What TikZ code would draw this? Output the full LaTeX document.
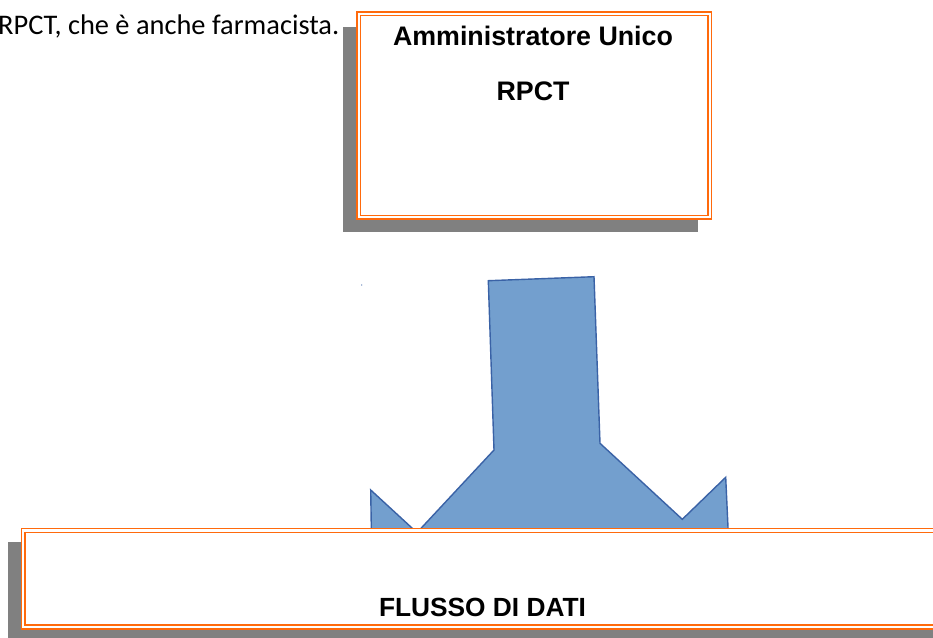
\documentclass[tikz,border=0pt]{standalone}
\usepackage{fontspec}
\setmainfont{Liberation Sans}
\newfontfamily\calib{Carlito}
\definecolor{boxorange}{RGB}{255,106,12}
\definecolor{shadowgray}{RGB}{128,128,128}
\definecolor{arrowfill}{RGB}{115,159,206}
\definecolor{arrowline}{RGB}{58,98,166}
\tikzset{
  framebox/.style={draw=boxorange, double=white, double distance=2.2pt, line width=1.5pt, fill=white, inner sep=0pt},
  shadowbox/.style={fill=shadowgray, draw=none},
  titletext/.style={font=\bfseries\fontsize{26.8}{30}\selectfont, inner sep=0pt, anchor=base},
  arrowshape/.style={fill=arrowfill, draw=arrowline, line width=1.4pt, line join=miter}
}
\begin{document}
\begin{tikzpicture}[x=1pt,y=-1pt]
\useasboundingbox (0,0) rectangle (933,637);
\clip (0,0) rectangle (933,637);
% intro text
\node[font=\calib\fontsize{28.4}{32}\selectfont, inner sep=0pt, anchor=base west] (intro) at (-2,34.5) {RPCT, che è anche farmacista.};
% shadows
\fill[shadowbox] (343.3,26.7) rectangle (697.7,232.3);
\fill[shadowbox] (8,541.7) rectangle (960,650);
% top box
\node[framebox, minimum width=351.2pt, minimum height=203.5pt] (adm) at (534.2,115.4) {};
\node[titletext] (admtitle) at (533,45) {Amministratore Unico};
\node[titletext] (rpct) at (533,100) {RPCT};
% arrow
\draw[arrowshape] (488.3,280.7) -- (594,276.7) -- (600,443.3) -- (682.3,519.3) -- (725.7,477.3)
  -- (729.5,560) -- (371.8,560) -- (370.7,490) -- (417,532.6) -- (494,450) -- cycle;
\fill[arrowline] (361.7,285) circle (0.6pt);
% bottom box
\node[framebox, anchor=north west, minimum width=960pt, minimum height=96.6pt] (flusso) at (22.5,529.7) {};
\node[font=\bfseries\fontsize{26.3}{30}\selectfont, inner sep=0pt, anchor=base] (flussotext) at (482.5,616.7) {FLUSSO DI DATI};
\end{tikzpicture}
\end{document}
